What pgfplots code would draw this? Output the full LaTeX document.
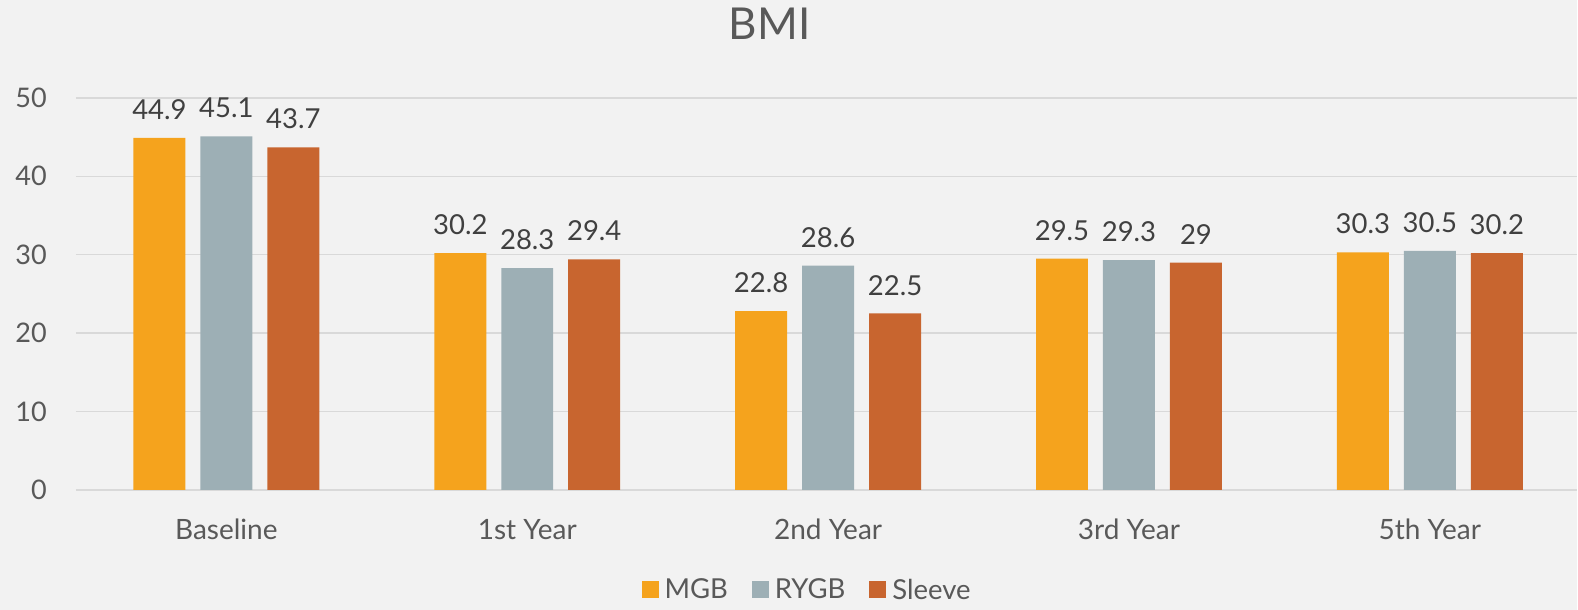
\documentclass[border=0pt]{standalone}
\usepackage{fontspec}
\setmainfont{Lato}
\usepackage{pgfplots}
\pgfplotsset{compat=1.18}
\definecolor{bg}{HTML}{F2F2F2}
\definecolor{gridc}{HTML}{D9D9D9}
\definecolor{textc}{HTML}{595959}
\definecolor{labc}{HTML}{404040}
\definecolor{cMGB}{HTML}{F5A31D}
\definecolor{cRYGB}{HTML}{9DAFB5}
\definecolor{cSleeve}{HTML}{C8652F}
\begin{document}
\begin{tikzpicture}
\fill[bg] (-76pt,-120pt) rectangle (1502pt,490pt);
\begin{axis}[
  at={(0,0)}, anchor=south west,
  scale only axis, width=1502pt, height=392pt,
  xmin=-0.5, xmax=4.49, ymin=0, ymax=50,
  ytick={0,10,20,30,40,50},
  xtick={0,1,2,3,4},
  xticklabels={Baseline,1st Year,2nd Year,3rd Year,5th Year},
  ymajorgrids, grid style={line width=1.5pt, color=gridc},
  axis line style={draw=none},
  major tick length=0pt,
  /pgf/number format/assume math mode=true,
  tick label style={color=textc},
  yticklabel style={font=\fontsize{27}{32}\selectfont, inner sep=0pt, anchor=east, xshift=-29pt},
  xticklabel style={font=\fontsize{28}{33}\selectfont, inner sep=0pt, anchor=north, yshift=-29pt},
  ybar, bar width=52pt,
  nodes near coords,
  nodes near coords style={font=\fontsize{27.5}{32}\selectfont, color=labc, inner sep=0pt, anchor=south, yshift=18pt},
  title={BMI},
  title style={font=\fontsize{44}{52}\selectfont, color=textc, at={(0.462,1.1735)}, anchor=center, inner sep=0pt},
  legend style={draw=none, fill=none, legend columns=-1, at={(0.487,-0.255)}, anchor=center,
    font=\fontsize{27.5}{32}\selectfont, text=textc,
    /tikz/every odd column/.append style={column sep=4pt},
    /tikz/every even column/.append style={column sep=22pt}},
  legend image code/.code={\fill[#1] (0pt,-8.5pt) rectangle (17pt,8.5pt);},
]
\addplot[fill=cMGB, draw=none, bar shift=-67pt] coordinates {(0,44.9) (1,30.2) (2,22.8) (3,29.5) (4,30.3)};
\addplot[fill=cRYGB, draw=none, bar shift=0pt] coordinates {(0,45.1) (1,28.3) (2,28.6) (3,29.3) (4,30.5)};
\addplot[fill=cSleeve, draw=none, bar shift=67pt] coordinates {(0,43.7) (1,29.4) (2,22.5) (3,29) (4,30.2)};
\legend{MGB,RYGB,Sleeve}
\end{axis}
\end{tikzpicture}
\end{document}
